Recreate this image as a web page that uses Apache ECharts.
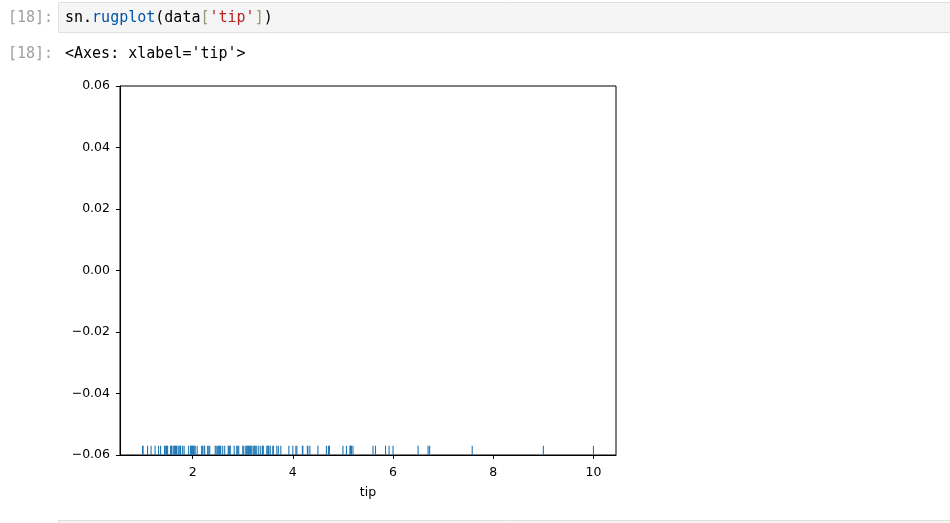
<!DOCTYPE html>
<html>
<head>
<meta charset="utf-8">
<script src="https://cdn.jsdelivr.net/npm/echarts@6/dist/echarts.min.js"></script>
<style>
html,body{margin:0;padding:0;background:#fff;}
#chart{width:950px;height:523px;}
</style>
</head>
<body>
<div id="chart"></div>
<script>
// Unique tip values read from the rug
const tips = [1.0, 1.01, 1.1, 1.17, 1.25, 1.32, 1.36, 1.44, 1.45, 1.47, 1.48, 1.5, 1.56, 1.57, 1.58,
  1.61, 1.63, 1.64, 1.66, 1.67, 1.68, 1.71, 1.73, 1.75, 1.76, 1.8, 1.83, 1.92, 1.96, 1.97, 1.98,
  2.0, 2.01, 2.02, 2.03, 2.05, 2.09, 2.18, 2.2, 2.23, 2.24, 2.3, 2.31, 2.34, 2.45, 2.47, 2.5,
  2.52, 2.54, 2.55, 2.56, 2.6, 2.64, 2.71, 2.72, 2.74, 2.75, 2.83, 2.88, 2.9, 2.92, 3.0, 3.02,
  3.06, 3.08, 3.09, 3.11, 3.12, 3.14, 3.15, 3.16, 3.18, 3.21, 3.23, 3.25, 3.27, 3.31, 3.35,
  3.39, 3.4, 3.41, 3.48, 3.5, 3.51, 3.52, 3.55, 3.6, 3.61, 3.68, 3.71, 3.76, 3.92, 4.0, 4.06,
  4.08, 4.19, 4.2, 4.29, 4.3, 4.34, 4.5, 4.67, 4.71, 4.73, 5.0, 5.07, 5.14, 5.15, 5.16, 5.17,
  5.2, 5.6, 5.65, 5.85, 5.92, 6.0, 6.5, 6.7, 6.73, 7.58, 9.0, 10.0];
const xTicks = [2, 4, 6, 8, 10];
const yTicks = [-0.06, -0.04, -0.02, 0.0, 0.02, 0.04, 0.06];
const xRange = [0.55, 10.45];
const yRange = [-0.06, 0.06];
const rugHeight = 0.025; // fraction of axes height

const chart = echarts.init(document.getElementById('chart'), null, {renderer: 'canvas'});
const mono = "'DejaVu Sans Mono', monospace";
const sans = "'DejaVu Sans', sans-serif";
const option = {
  animation: false,
  backgroundColor: '#ffffff',
  textStyle: {fontFamily: sans},
  grid: {left: 120, top: 86, width: 496, height: 369, show: true, borderColor: '#000', borderWidth: 1, backgroundColor: '#fff', containLabel: false},
  xAxis: {
    type: 'value', min: xRange[0], max: xRange[1],
    name: 'tip', nameLocation: 'middle', nameGap: 31,
    nameTextStyle: {color: '#000', fontSize: 12.5, fontFamily: sans},
    axisLine: {show: true, onZero: false, lineStyle: {color: '#000', width: 1}},
    axisTick: {show: true, length: 4, inside: false, customValues: xTicks, lineStyle: {color: '#000'}},
    axisLabel: {show: true, customValues: xTicks, color: '#000', fontSize: 12.5, margin: 11, fontFamily: sans},
    splitLine: {show: false}
  },
  yAxis: {
    type: 'value', min: yRange[0], max: yRange[1],
    axisLine: {show: true, onZero: false, lineStyle: {color: '#000', width: 1}},
    axisTick: {show: true, length: 4, inside: false, customValues: yTicks, lineStyle: {color: '#000'}},
    axisLabel: {show: true, customValues: yTicks, color: '#000', fontSize: 12.5, margin: 10, fontFamily: sans,
      formatter: v => v.toFixed(2).replace('-', '\u2212').replace('\u22120.00', '0.00')},
    splitLine: {show: false}
  },
  series: [{
    type: 'custom',
    data: tips.map(v => [v]),
    encode: {x: 0},
    clip: true,
    renderItem: function (params, api) {
      const x = api.value(0);
      const p0 = api.coord([x, yRange[0]]);
      const p1 = api.coord([x, yRange[0] + rugHeight * (yRange[1] - yRange[0])]);
      return {type: 'line', shape: {x1: p0[0], y1: p0[1], x2: p0[0], y2: p1[1]}, style: {stroke: '#1f77b4', lineWidth: 1.1}};
    }
  }],
  graphic: [
    {type: 'rect', shape: {x: 58.5, y: 2.5, width: 900, height: 30}, style: {fill: '#f5f5f5', stroke: '#e0e0e0', lineWidth: 1}, z: 1},
    {type: 'text', x: 8, y: 18, style: {text: '[18]:', fill: '#a0a0a0', font: '15px ' + mono, textVerticalAlign: 'middle'}, z: 2},
    {type: 'text', x: 65, y: 18, style: {
      text: '{d|sn.}{p|rugplot}{d|(data}{b|[}{s|\'tip\'}{b|]}{d|)}',
      textVerticalAlign: 'middle',
      font: '15px ' + mono,
      rich: {
        d: {fill: '#000', font: '15px ' + mono},
        p: {fill: '#0055aa', font: '15px ' + mono},
        b: {fill: '#999977', font: '15px ' + mono},
        s: {fill: '#ba2121', font: '15px ' + mono}
      }
    }, z: 2},
    {type: 'text', x: 8, y: 54, style: {text: '[18]:', fill: '#a0a0a0', font: '15px ' + mono, textVerticalAlign: 'middle'}, z: 2},
    {type: 'text', x: 65, y: 54, style: {text: "<Axes: xlabel='tip'>", fill: '#000', font: '15px ' + mono, textVerticalAlign: 'middle'}, z: 2},
    {type: 'rect', shape: {x: 58.5, y: 520.5, width: 900, height: 10}, style: {fill: '#f5f5f5', stroke: '#e0e0e0', lineWidth: 1}, z: 1}
  ]
};
chart.setOption(option);
</script>
</body>
</html>
